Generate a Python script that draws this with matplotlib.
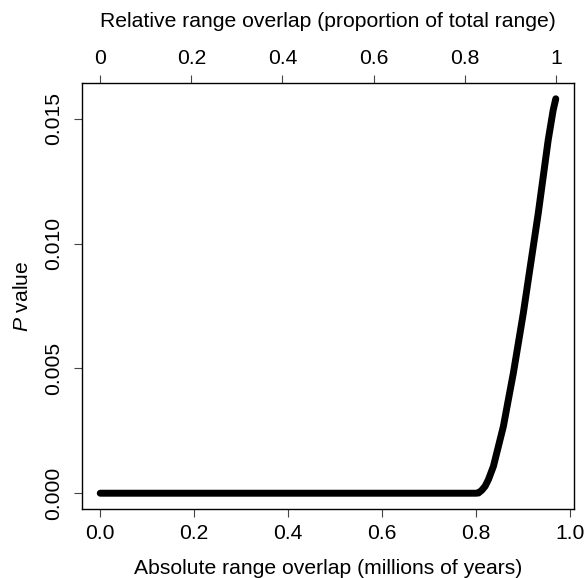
import numpy as np
import matplotlib
matplotlib.use("Agg")
import matplotlib.pyplot as plt

plt.rcParams['font.family'] = ['Liberation Sans', 'DejaVu Sans']
plt.rcParams['mathtext.fontset'] = 'custom'
plt.rcParams['mathtext.it'] = 'Liberation Sans:italic'
plt.rcParams['mathtext.rm'] = 'Liberation Sans'

# absolute range overlap (millions of years) and P value
overlap = [0.0, 0.20, 0.40, 0.60, 0.80, 0.8057, 0.8127, 0.8198, 0.8269,
           0.8375, 0.8481, 0.8587, 0.8693, 0.8799, 0.8905, 0.9011, 0.9117,
           0.9223, 0.9329, 0.9435, 0.9541, 0.9647, 0.9703]
pvalue = [0.0, 0.0, 0.0, 0.0, 0.0, 0.00001, 0.00012, 0.00028, 0.00055,
          0.00108, 0.00188, 0.00268, 0.00375, 0.00481, 0.00601, 0.00721,
          0.00855, 0.00988, 0.01121, 0.01268, 0.01415, 0.01535, 0.01581]

total_range = 0.9703  # absolute overlap equal to the whole range
bottom_ticks = [0.0, 0.2, 0.4, 0.6, 0.8, 1.0]
top_ticks = [0, 0.2, 0.4, 0.6, 0.8, 1]
top_labels = ['0', '0.2', '0.4', '0.6', '0.8', '1']
y_ticks = [0.000, 0.005, 0.010, 0.015]

fs = 15.2
fig = plt.figure(figsize=(5.86, 5.78), dpi=100)
ax = fig.add_axes([82 / 586, 1 - 509 / 578, (574 - 82) / 586, (509 - 83) / 578])

ax.plot(overlap, pvalue, color='black', lw=5, solid_capstyle='round',
        solid_joinstyle='round')

xmax = max(overlap)
ymax = max(pvalue)
ax.set_xlim(-0.04 * xmax, 1.04 * xmax)
ax.set_ylim(-0.04 * ymax, 1.04 * ymax)

ax.set_xticks(bottom_ticks)
ax.set_xticklabels(['%.1f' % t for t in bottom_ticks])
ax.set_yticks(y_ticks)
ax.set_yticklabels(['%.3f' % t for t in y_ticks], rotation=90, va='center')

ax.tick_params(axis='both', direction='out', length=5.5, width=0.8,
               color='#444444', labelsize=fs, pad=5)
ax.tick_params(axis='y', pad=8)
for s in ax.spines.values():
    s.set_linewidth(1)

ax.set_xlabel('Absolute range overlap (millions of years)', fontsize=fs,
              labelpad=12)
ax.set_ylabel(r'$P$ value', fontsize=fs, labelpad=9)

top = ax.secondary_xaxis('top', functions=(lambda x: x / total_range,
                                           lambda r: r * total_range))
top.set_xticks(top_ticks)
top.set_xticklabels(top_labels)
top.tick_params(direction='out', length=5.5, width=0.8, color='#444444',
                labelsize=fs, pad=5)
top.spines['top'].set_visible(False)
top.set_xlabel('Relative range overlap (proportion of total range)',
               fontsize=fs, labelpad=16)

fig.savefig('out.png', dpi=100)
